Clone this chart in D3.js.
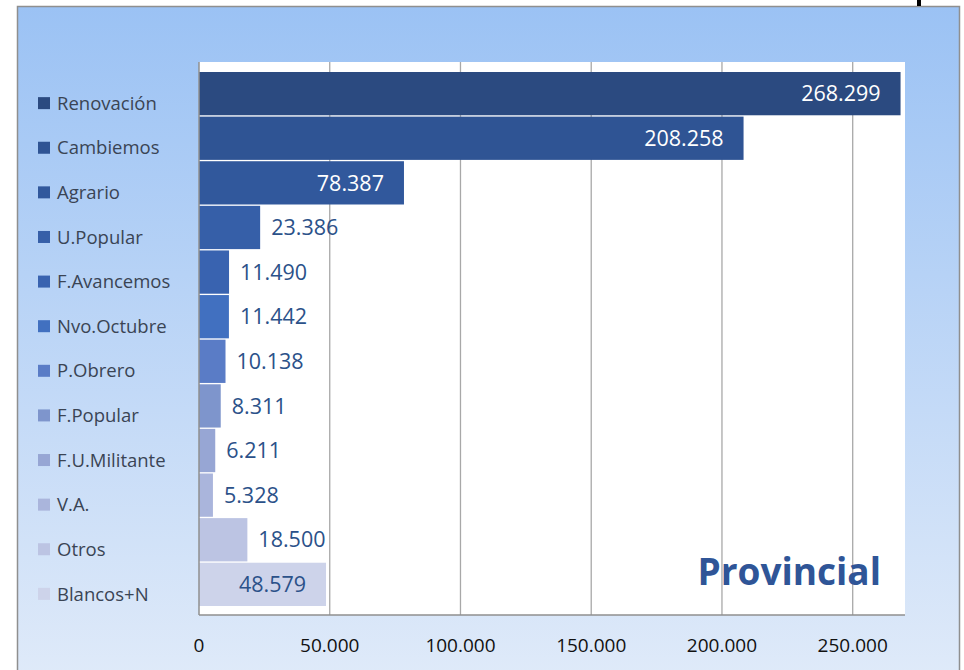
<!DOCTYPE html>
<html>
<head>
<meta charset="utf-8">
<script src="https://cdn.jsdelivr.net/npm/d3@7"></script>
<style>
  html, body { margin: 0; padding: 0; background: #fff; }
  svg { display: block; }
</style>
</head>
<body>
<script>
// party list, top to bottom
var parties = ['Renovación', 'Cambiemos', 'Agrario', 'U.Popular', 'F.Avancemos', 'Nvo.Octubre',
               'P.Obrero', 'F.Popular', 'F.U.Militante', 'V.A.', 'Otros', 'Blancos+N'];
var votes = [268299, 208258, 78387, 23386, 11490, 11442, 10138, 8311, 6211, 5328, 18500, 48579];
var barColors = ['#2b4a80', '#2f5494', '#31589c', '#365fa8', '#3963b0', '#4170c0',
                 '#5a7cc6', '#7e95cc', '#97a6d4', '#aab5dc', '#bcc4e3', '#cdd3ea'];
// which values sit inside their bar
var inside = [true, true, true, false, false, false, false, false, false, false, false, true];
var xTicks = [0, 50000, 100000, 150000, 200000, 250000];
var chartTitle = 'Provincial';

var width = 964, height = 670;
var fmt = function(v){ return d3.format(',')(v).replace(/,/g, '.'); };
var font = '"Open Sans", Lato, sans-serif';

var svg = d3.select('body').append('svg')
    .attr('width', width)
    .attr('height', height);

var defs = svg.append('defs');
var grad = defs.append('linearGradient')
    .attr('id', 'bg').attr('x1', 0).attr('y1', 0).attr('x2', 0).attr('y2', 1);
grad.append('stop').attr('offset', '0%').attr('stop-color', '#9bc2f4');
grad.append('stop').attr('offset', '100%').attr('stop-color', '#dfeaf9');

// outer frame
svg.append('rect')
    .attr('x', 17.5).attr('y', 6.5)
    .attr('width', 942).attr('height', 670)
    .attr('fill', 'url(#bg)')
    .attr('stroke', '#8f8f8f').attr('stroke-width', 1.5);

// little black mark at top edge
svg.append('rect')
    .attr('x', 917).attr('y', 0).attr('width', 4).attr('height', 6)
    .attr('fill', '#000');

var plot = {left: 199, right: 905, top: 62, bottom: 615};

var x = d3.scaleLinear().domain([0, 270000]).range([plot.left, plot.right]);
var y = d3.scaleBand().domain(parties).range([72, 606]).paddingInner(0.03).paddingOuter(0);

// plot background
svg.append('rect')
    .attr('x', plot.left).attr('y', plot.top)
    .attr('width', plot.right - plot.left).attr('height', plot.bottom - plot.top)
    .attr('fill', '#fff');

// gridlines
svg.append('g')
    .selectAll('line')
    .data(xTicks.slice(1))
    .enter().append('line')
    .attr('x1', function(d){ return x(d); })
    .attr('x2', function(d){ return x(d); })
    .attr('y1', plot.top).attr('y2', plot.bottom)
    .attr('stroke', '#a8a8a8').attr('stroke-width', 1.3);

// bars
svg.append('g')
    .selectAll('rect')
    .data(parties)
    .enter().append('rect')
    .attr('x', x(0))
    .attr('y', function(d){ return y(d); })
    .attr('width', function(d, i){ return x(votes[i]) - x(0); })
    .attr('height', y.bandwidth())
    .attr('fill', function(d, i){ return barColors[i]; });

// axes lines
svg.append('line')
    .attr('x1', plot.left).attr('x2', plot.left)
    .attr('y1', plot.top).attr('y2', plot.bottom)
    .attr('stroke', '#8f8f8f').attr('stroke-width', 1.5);
svg.append('line')
    .attr('x1', plot.left).attr('x2', plot.right)
    .attr('y1', plot.bottom).attr('y2', plot.bottom)
    .attr('stroke', '#8f8f8f').attr('stroke-width', 1.5);

// value labels
svg.append('g')
    .selectAll('text')
    .data(parties)
    .enter().append('text')
    .attr('x', function(d, i){ return inside[i] ? x(votes[i]) - 20 : x(votes[i]) + 11; })
    .attr('y', function(d){ return y(d) + y.bandwidth() / 2; })
    .attr('dy', '0.36em')
    .attr('text-anchor', function(d, i){ return inside[i] ? 'end' : 'start'; })
    .attr('font-family', font)
    .attr('font-size', 21.5)
    .attr('fill', function(d, i){ return (inside[i] && i < 3) ? '#ffffff' : '#2b5189'; })
    .text(function(d, i){ return fmt(votes[i]); });

// x tick labels
svg.append('g')
    .selectAll('text')
    .data(xTicks)
    .enter().append('text')
    .attr('x', function(d){ return x(d); })
    .attr('y', 645)
    .attr('dy', '0.36em')
    .attr('text-anchor', 'middle')
    .attr('font-family', font)
    .attr('font-size', 19)
    .attr('fill', '#111')
    .text(fmt);

// legend
var legend = svg.append('g')
    .selectAll('g')
    .data(parties)
    .enter().append('g')
    .attr('transform', function(d){ return 'translate(38,' + (y(d) + y.bandwidth() / 2 + 9.5) + ')'; });
legend.append('rect')
    .attr('x', 0).attr('y', -6)
    .attr('width', 12).attr('height', 12)
    .attr('fill', function(d, i){ return barColors[i]; });
legend.append('text')
    .attr('x', 19).attr('y', 0)
    .attr('dy', '0.36em')
    .attr('font-family', font)
    .attr('font-size', 18.5)
    .attr('fill', '#3a4454')
    .text(function(d){ return d; });

// title inside plot
svg.append('text')
    .attr('x', 881).attr('y', 585)
    .attr('text-anchor', 'end')
    .attr('font-family', font)
    .attr('font-weight', 'bold')
    .attr('font-size', 37)
    .attr('fill', '#2f5597')
    .text(chartTitle);
</script>
</body>
</html>
